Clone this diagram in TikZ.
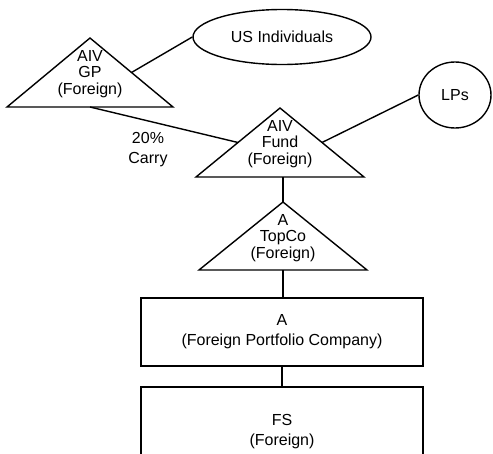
\documentclass[tikz,border=0pt]{standalone}
\usepackage{fontspec}
\setmainfont{Liberation Sans}
\usetikzlibrary{shapes.geometric,calc}
\begin{document}
\begin{tikzpicture}[x=1pt,y=-1pt,line width=1.4pt,
  tritext/.style={align=center,inner sep=0pt,font=\fontsize{16}{16.5}\selectfont},
  plaintext/.style={align=center,inner sep=0pt,font=\fontsize{16}{20}\selectfont},
  holder/.style={draw,ellipse,inner sep=0pt,font=\fontsize{16}{19}\selectfont},
  entity/.style={draw,rectangle,minimum width=282pt,align=center,inner sep=0pt,
    font=\fontsize{16}{20}\selectfont}]
  \useasboundingbox (0,0) rectangle (493,453);
  \clip (0,0) rectangle (493,453);

  % corner points of the three triangles
  \coordinate (gpA) at (90,38);  \coordinate (gpL) at (7,107);   \coordinate (gpR) at (173,107);
  \coordinate (fA)  at (280,108); \coordinate (fL)  at (196,177);  \coordinate (fR)  at (364,177);
  \coordinate (tA)  at (283,202); \coordinate (tL)  at (199,270);  \coordinate (tR)  at (367,270);

  \draw (gpL) -- (gpA) -- (gpR) -- cycle;
  \draw (fL) -- (fA) -- (fR) -- cycle;
  \draw (tL) -- (tA) -- (tR) -- cycle;

  \node[tritext] (gp)    at (90,74)   {AIV\\GP\\(Foreign)};
  \node[tritext] (fund)  at (280,144) {AIV\\Fund\\(Foreign)};
  \node[tritext] (topco) at (283,238) {A\\TopCo\\(Foreign)};

  \node[holder,minimum width=178pt,minimum height=55pt] (us)  at (282,37) {US Individuals};
  \node[holder,minimum width=72pt,minimum height=66pt]  (lps) at (455,95) {LPs};

  \node[entity,minimum height=68pt] (a)  at (282,332) {A\\(Foreign Portfolio Company)};
  \node[entity,minimum height=90pt] (fs) at (282,432) {FS\\(Foreign)};

  \node[plaintext] (carry) at (148,150) {20\%\\Carry};

  % ownership links
  \draw ($(gpA)!0.5!(gpR)$) -- (us.west);
  \draw ($(gpL)!0.5!(gpR)$) -- ($(fA)!0.5!(fL)$);
  \draw ($(fA)!0.5!(fR)$) -- (lps.west);
  \draw (tA |- fL) -- (tA);
  \draw (tA |- tL) -- (tA |- a.north);
  \draw (a.south) -- (fs.north);
\end{tikzpicture}
\end{document}
